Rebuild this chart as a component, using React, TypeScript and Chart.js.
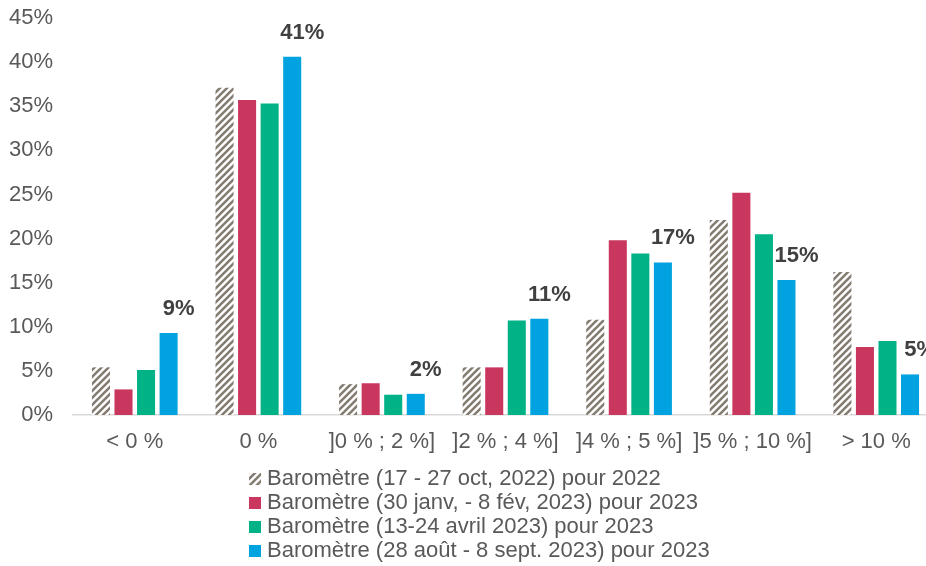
import React, { useEffect, useRef } from "react";
import { Chart, registerables } from "chart.js";

Chart.register(...registerables);

const categories = ["< 0 %", "0 %", "]0 % ; 2 %]", "]2 % ; 4 %]", "]4 % ; 5 %]", "]5 % ; 10 %]", "> 10 %"];
const seriesLabels = [
  "Baromètre (17 - 27 oct, 2022) pour 2022",
  "Baromètre (30 janv, - 8 fév, 2023) pour 2023",
  "Baromètre (13-24 avril 2023) pour 2023",
  "Baromètre (28 août - 8 sept. 2023) pour 2023",
];
const oct2022 = [5.4, 37.1, 3.5, 5.4, 10.8, 22.1, 16.2];
const jan2023 = [2.9, 35.7, 3.6, 5.4, 19.8, 25.2, 7.7];
const apr2023 = [5.1, 35.3, 2.3, 10.7, 18.3, 20.5, 8.4];
const aug2023 = [9.3, 40.6, 2.4, 10.9, 17.3, 15.3, 4.6];
const yTicks = [0, 5, 10, 15, 20, 25, 30, 35, 40, 45];

const FONT = "'Liberation Sans', Arial, sans-serif";
const TEXT = "#595959";

function makeHatch(): CanvasPattern | string {
  const c = document.createElement("canvas");
  c.width = 7;
  c.height = 7;
  const g = c.getContext("2d");
  if (!g) return "#8a8178";
  g.fillStyle = "#ffffff";
  g.fillRect(0, 0, 7, 7);
  g.strokeStyle = "#857c72";
  g.lineWidth = 2.6;
  g.beginPath();
  g.moveTo(-1, 8);
  g.lineTo(8, -1);
  g.moveTo(-4, 4);
  g.lineTo(4, -4);
  g.moveTo(3, 11);
  g.lineTo(11, 3);
  g.stroke();
  const p = g.createPattern(c, "repeat");
  return p || "#8a8178";
}

export default function App() {
  const ref = useRef<HTMLCanvasElement>(null);
  useEffect(() => {
    if (!ref.current) return;
    const hatch = makeHatch();
    const colors: any[] = [hatch, "#c9375f", "#00b286", "#00a3e0"];
    const series = [oct2022, jan2023, apr2023, aug2023];

    const labelPlugin = {
      id: "blueLabels",
      afterDatasetsDraw(chart: any) {
        const ctx = chart.ctx;
        const meta = chart.getDatasetMeta(3);
        ctx.save();
        ctx.font = `bold 22px ${FONT}`;
        ctx.fillStyle = "#404040";
        ctx.textAlign = "center";
        ctx.textBaseline = "middle";
        meta.data.forEach((bar: any, i: number) => {
          ctx.fillText(Math.round(aug2023[i]) + "%", bar.x + 10, bar.y - 24);
        });
        ctx.restore();
      },
    };

    const legendPlugin = {
      id: "customLegend",
      afterDraw(chart: any) {
        const ctx = chart.ctx;
        ctx.save();
        ctx.font = `22px ${FONT}`;
        ctx.textBaseline = "middle";
        ctx.textAlign = "left";
        seriesLabels.forEach((lab, i) => {
          const y = 479 + i * 24;
          ctx.fillStyle = colors[i];
          ctx.fillRect(249, y - 6, 12, 12);
          ctx.fillStyle = TEXT;
          ctx.fillText(lab, 267, y);
        });
        ctx.restore();
      },
    };

    const chart = new Chart(ref.current, {
      type: "bar",
      data: {
        labels: categories,
        datasets: series.map((d, i) => ({
          label: seriesLabels[i],
          data: d,
          backgroundColor: colors[i],
          borderWidth: 0,
          categoryPercentage: 0.73,
          barPercentage: 0.8,
        })),
      },
      options: {
        responsive: false,
        animation: false,
        layout: { padding: { left: 0, right: 8, top: 18, bottom: 100 } },
        plugins: {
          legend: { display: false },
          tooltip: { enabled: false },
        },
        scales: {
          x: {
            grid: { display: false, drawTicks: false },
            border: { display: true, color: "#d9d9d9", width: 1.5 },
            ticks: { color: TEXT, font: { family: FONT, size: 22 }, padding: 14, maxRotation: 0, autoSkip: false },
            afterFit: (s: any) => {
              s.height = 51;
            },
          },
          y: {
            min: 0,
            max: 45,
            grid: { display: false, drawTicks: false },
            border: { display: false },
            afterBuildTicks: (s: any) => {
              s.ticks = yTicks.map((v) => ({ value: v }));
            },
            ticks: {
              color: TEXT,
              font: { family: FONT, size: 22 },
              padding: 20,
              callback: (v: any) => v + "%",
            },
            afterFit: (s: any) => {
              s.width = 73;
              s.paddingTop = 0;
              s.paddingBottom = 0;
            },
          },
        },
      },
      plugins: [labelPlugin, legendPlugin],
    });
    return () => chart.destroy();
  }, []);

  return (
    <div
      style={{
        position: "fixed",
        left: 0,
        top: 0,
        width: 926,
        height: 566,
        overflow: "hidden",
        background: "#ffffff",
      }}
    >
      <canvas ref={ref} width={946} height={566} style={{ display: "block" }} />
    </div>
  );
}
